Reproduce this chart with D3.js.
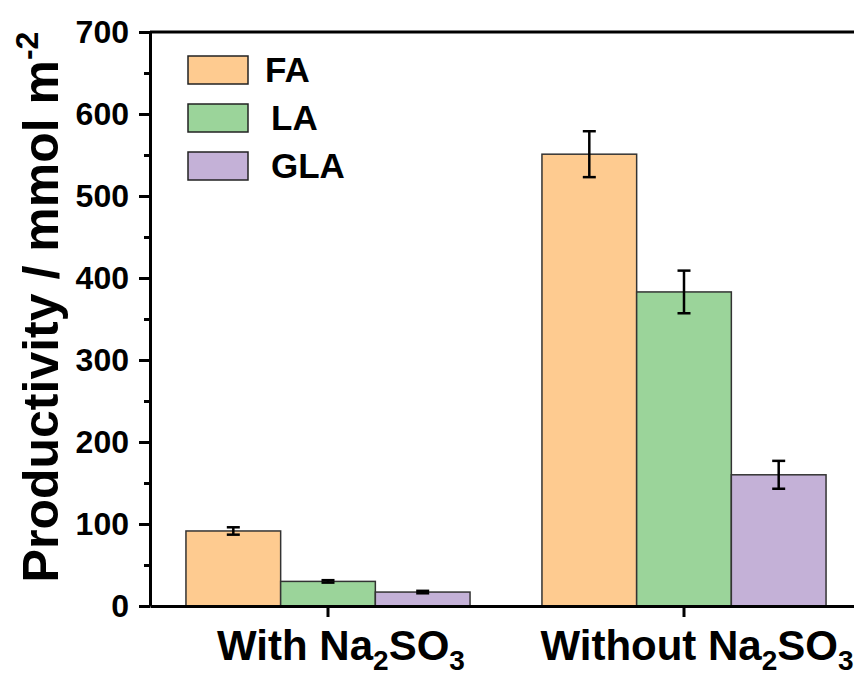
<!DOCTYPE html>
<html>
<head>
<meta charset="utf-8">
<script src="https://cdn.jsdelivr.net/npm/d3@7"></script>
<style>
  body { margin: 0; background: #fff; }
  svg { display: block; font-family: "Liberation Sans", Arial, sans-serif; font-weight: bold; }
</style>
</head>
<body>
<script>
// data
const groups = ["With", "Without"];
const series = ["FA", "LA", "GLA"];
const withValues = [91.5, 30, 17];
const withErrors = [4.5, 1.5, 1.5];
const withoutValues = [551, 383, 160];
const withoutErrors = [28, 26, 17];
const yTicks = [0, 100, 200, 300, 400, 500, 600, 700];
const yMinorTicks = [50, 150, 250, 350, 450, 550, 650];
const colors = ["#FECB90", "#9BD49A", "#C4B1D7"];

const w = 854;
const h = 675;
const p = { t: 32, r: -8, b: 69, l: 150 };

const rows = [];
groups.forEach((g, gi) => {
  const vals = gi === 0 ? withValues : withoutValues;
  const errs = gi === 0 ? withErrors : withoutErrors;
  series.forEach((s, si) => {
    rows.push({ group: g, series: s, value: vals[si], err: errs[si], color: colors[si] });
  });
});

const svg = d3.select("body").append("svg")
  .attr("width", w)
  .attr("height", h);

const x0 = d3.scaleBand()
  .domain(groups)
  .range([p.l, w - p.r])
  .paddingInner(0.202)
  .paddingOuter(0.101);

const x1 = d3.scaleBand()
  .domain(series)
  .range([0, x0.bandwidth()]);

const y = d3.scaleLinear()
  .domain([0, 700])
  .range([h - p.b, p.t]);

// bars
svg.append("g")
  .selectAll("rect")
  .data(rows)
  .enter()
  .append("rect")
  .attr("x", (d) => x0(d.group) + x1(d.series))
  .attr("y", (d) => y(d.value))
  .attr("width", x1.bandwidth())
  .attr("height", (d) => y(0) - y(d.value))
  .attr("fill", (d) => d.color)
  .attr("stroke", "#333")
  .attr("stroke-width", 1.5);

// error bars
const eb = svg.append("g")
  .attr("stroke", "#000")
  .attr("stroke-width", 2.5);
rows.forEach((d) => {
  const cx = x0(d.group) + x1(d.series) + x1.bandwidth() / 2;
  eb.append("line")
    .attr("x1", cx).attr("x2", cx)
    .attr("y1", y(d.value + d.err)).attr("y2", y(d.value - d.err));
  [d.value + d.err, d.value - d.err].forEach((v) => {
    eb.append("line")
      .attr("x1", cx - 6.5).attr("x2", cx + 6.5)
      .attr("y1", y(v)).attr("y2", y(v));
  });
});

// frame top
svg.append("line")
  .attr("x1", p.l).attr("x2", w - p.r)
  .attr("y1", p.t).attr("y2", p.t)
  .attr("stroke", "#000").attr("stroke-width", 3);

// y axis minor
svg.append("g")
  .attr("transform", `translate(${p.l},0)`)
  .call(d3.axisLeft(y).tickValues(yMinorTicks).tickSize(6).tickSizeOuter(0).tickFormat(""))
  .call((g) => g.select(".domain").remove())
  .call((g) => g.selectAll("line").attr("stroke-width", 3));

// y axis major
const yAxis = svg.append("g")
  .attr("transform", `translate(${p.l},0)`)
  .call(d3.axisLeft(y).tickValues(yTicks).tickSize(11).tickSizeOuter(0).tickPadding(10));
yAxis.select(".domain").attr("stroke-width", 3);
yAxis.selectAll("line").attr("stroke-width", 3);
yAxis.selectAll("text")
  .attr("font-size", 32)
  .attr("font-weight", "bold")
  .attr("font-family", "Liberation Sans, Arial, sans-serif")
  .attr("fill", "#000");

// x axis
const xAxis = svg.append("g")
  .attr("transform", `translate(0,${h - p.b})`)
  .call(d3.axisBottom(x0).tickSize(11).tickSizeOuter(0).tickFormat(""));
xAxis.select(".domain").attr("stroke-width", 3);
xAxis.selectAll("line").attr("stroke-width", 3);

// x labels with subscripts (sit a little right of the tick, as in the original)
groups.forEach((g) => {
  const t = svg.append("text")
    .attr("x", x0(g) + x0.bandwidth() / 2 + 13)
    .attr("y", 660)
    .attr("text-anchor", "middle")
    .attr("font-size", 42)
    .attr("fill", "#000");
  t.append("tspan").text(g + " Na");
  t.append("tspan").attr("font-size", 28).attr("dy", 10).text("2");
  t.append("tspan").attr("dy", -10).text("SO");
  t.append("tspan").attr("font-size", 28).attr("dy", 10).text("3");
});

// y label
const yl = svg.append("text")
  .attr("transform", `translate(58,${(y(0) + y(700)) / 2 - 12}) rotate(-90)`)
  .attr("text-anchor", "middle")
  .attr("font-size", 50)
  .attr("fill", "#000");
yl.append("tspan").text("Productivity / mmol m");
yl.append("tspan").attr("font-size", 32).attr("dy", -20).text("-2");

// legend
const legend = svg.append("g").attr("transform", "translate(188,56)");
series.forEach((s, i) => {
  legend.append("rect")
    .attr("x", 0).attr("y", i * 48)
    .attr("width", 60).attr("height", 28)
    .attr("fill", colors[i])
    .attr("stroke", "#222")
    .attr("stroke-width", 1.5);
  legend.append("text")
    .attr("x", i === 0 ? 77 : 83)
    .attr("y", i * 48 + 26)
    .attr("font-size", 35)
    .attr("fill", "#000")
    .text(s);
});
</script>
</body>
</html>
